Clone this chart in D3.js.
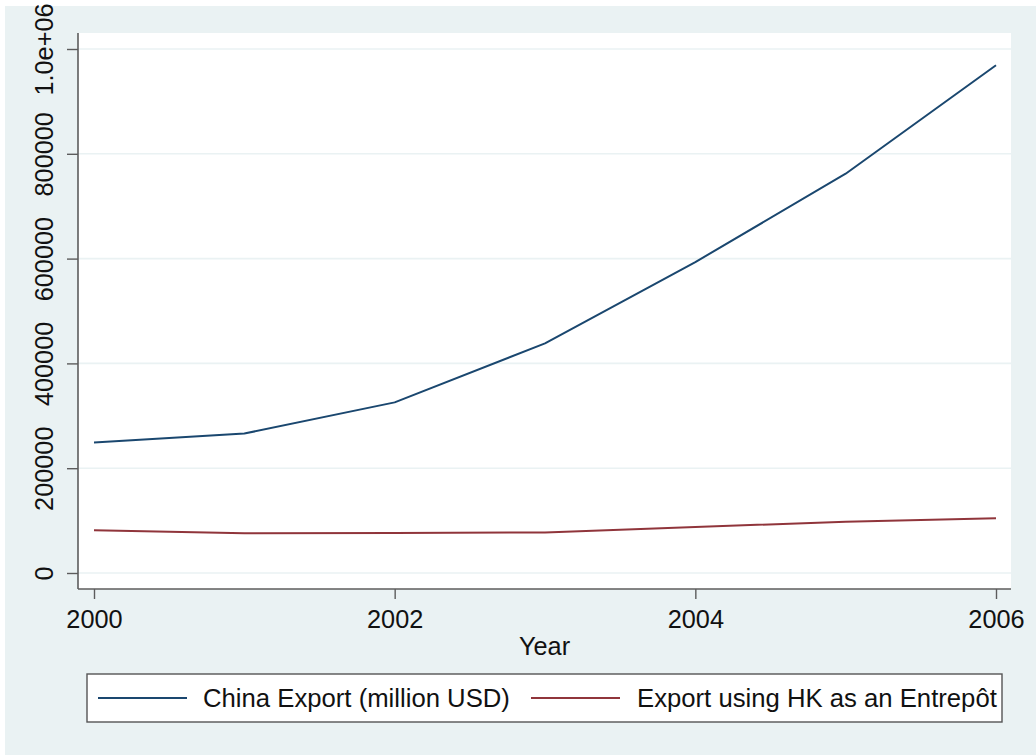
<!DOCTYPE html>
<html>
<head>
<meta charset="utf-8">
<script src="https://cdn.jsdelivr.net/npm/d3@7"></script>
<style>
  html, body { margin: 0; padding: 0; background: #ffffff; }
  svg { display: block; }
  text { font-family: "Liberation Sans", Arial, sans-serif; fill: #111; }
</style>
</head>
<body>
<svg id="chart" width="1036" height="755"></svg>
<script>
const years = [2000, 2001, 2002, 2003, 2004, 2005, 2006];
const chinaExport = [249203, 266098, 325596, 438228, 593326, 761953, 969073];
const hkEntrepot = [81500, 75700, 76300, 77300, 87800, 97900, 104400];
const yTicks = [0, 200000, 400000, 600000, 800000, 1000000];
const yTickLabels = ["0", "200000", "400000", "600000", "800000", "1.0e+06"];
const xTicks = [2000, 2002, 2004, 2006];
const seriesNames = ["China Export (million USD)", "Export using HK as an Entrepôt"];
const seriesColors = ["#1a476f", "#90353b"];

const svg = d3.select("#chart");
const W = 1036, H = 755;
const plot = { left: 78, right: 1011, top: 33, bottom: 589 };
const fs = 25.3;
const legFs = 25.7;

// outer background
svg.append("rect").attr("x", 5).attr("y", 6).attr("width", W - 5).attr("height", H - 6).attr("fill", "#eaf2f3");
// plot region
svg.append("rect").attr("x", plot.left).attr("y", plot.top)
  .attr("width", plot.right - plot.left).attr("height", plot.bottom - plot.top).attr("fill", "#ffffff");

const x = d3.scaleLinear().domain([2000, 2006]).range([94, 996]);
const y = d3.scaleLinear().domain([0, 1000000]).range([573, 49]);

// gridlines
svg.append("g").selectAll("line").data(yTicks).join("line")
  .attr("x1", plot.left).attr("x2", plot.right)
  .attr("y1", d => y(d)).attr("y2", d => y(d))
  .attr("stroke", "#eaf2f3").attr("stroke-width", 1.6);

// y axis
const yAxis = d3.axisLeft(y).tickValues(yTicks).tickSize(11).tickPadding(0)
  .tickFormat((d, i) => yTickLabels[i]);
const gy = svg.append("g").attr("transform", `translate(${plot.left},0)`).call(yAxis);
gy.select(".domain").remove();
gy.selectAll(".tick line").attr("stroke", "#5c5c5c").attr("stroke-width", 1.4);
gy.selectAll(".tick text")
  .attr("transform", "translate(-25,0) rotate(-90)")
  .attr("x", 0).attr("y", 0).attr("dy", 0)
  .attr("text-anchor", "middle")
  .style("font-size", fs + "px").style("font-family", "'Liberation Sans', Arial, sans-serif")
  .attr("fill", "#111");
svg.append("line").attr("x1", plot.left).attr("x2", plot.left).attr("y1", plot.top).attr("y2", plot.bottom)
  .attr("stroke", "#5c5c5c").attr("stroke-width", 1.6);

// x axis
const xAxis = d3.axisBottom(x).tickValues(xTicks).tickSize(10).tickPadding(0).tickFormat(d3.format("d"));
const gx = svg.append("g").attr("transform", `translate(0,${plot.bottom})`).call(xAxis);
gx.select(".domain").remove();
gx.selectAll(".tick line").attr("stroke", "#5c5c5c").attr("stroke-width", 1.4);
gx.selectAll(".tick text").attr("y", 39).attr("dy", 0)
  .style("font-size", fs + "px").style("font-family", "'Liberation Sans', Arial, sans-serif")
  .attr("fill", "#111");
svg.append("line").attr("x1", plot.left).attr("x2", plot.right).attr("y1", plot.bottom).attr("y2", plot.bottom)
  .attr("stroke", "#5c5c5c").attr("stroke-width", 1.6);

// axis title
svg.append("text").attr("x", (plot.left + plot.right) / 2).attr("y", 655)
  .attr("text-anchor", "middle").style("font-size", fs + "px").text("Year");

// lines
const line = d3.line().x((d, i) => x(years[i])).y(d => y(d));
[chinaExport, hkEntrepot].forEach((s, k) => {
  svg.append("path").datum(s).attr("d", line)
    .attr("fill", "none").attr("stroke", seriesColors[k]).attr("stroke-width", 2)
    .attr("stroke-linejoin", "round");
});

// legend
svg.append("rect").attr("x", 87).attr("y", 674).attr("width", 915).attr("height", 48)
  .attr("fill", "#ffffff").attr("stroke", "#555").attr("stroke-width", 1.4);
const legItems = [{ x1: 98, x2: 187, tx: 203 }, { x1: 531, x2: 620, tx: 637 }];
legItems.forEach((it, k) => {
  svg.append("line").attr("x1", it.x1).attr("x2", it.x2).attr("y1", 698).attr("y2", 698)
    .attr("stroke", seriesColors[k]).attr("stroke-width", 2);
  svg.append("text").attr("x", it.tx).attr("y", 707).style("font-size", legFs + "px").text(seriesNames[k]);
});
</script>
</body>
</html>
